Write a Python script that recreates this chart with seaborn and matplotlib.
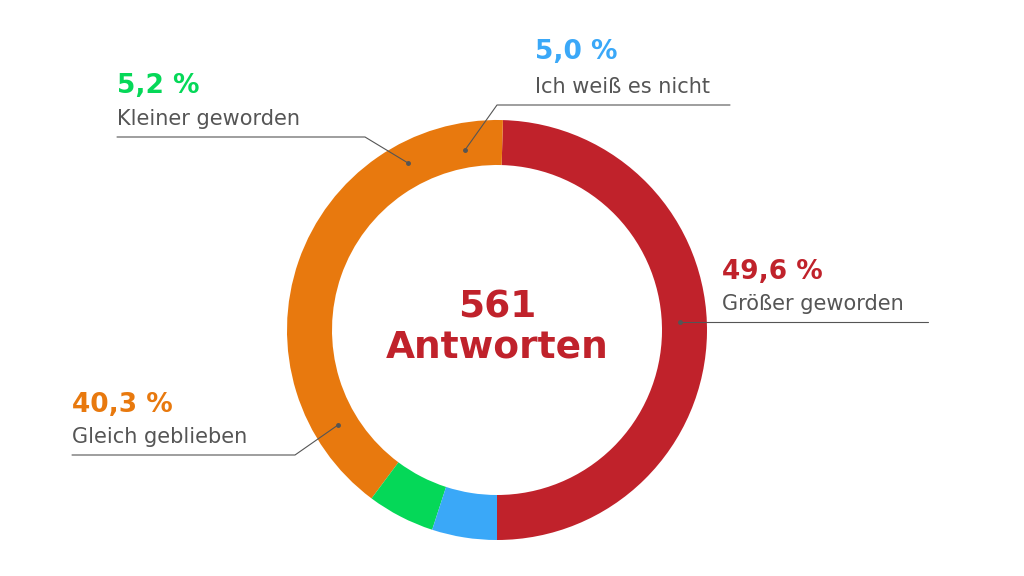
import matplotlib.pyplot as plt
import seaborn as sns

# data
labels = ["Größer geworden", "Gleich geblieben", "Kleiner geworden", "Ich weiß es nicht"]
shares = [49.6, 40.3, 5.2, 5.0]
pct_text = ["49,6 %", "40,3 %", "5,2 %", "5,0 %"]
colors = ["#C0222B", "#E8790E", "#05D858", "#3AA8F8"]
total = "561"

sns.set_theme(style="white")
fig = plt.figure(figsize=(10.24, 5.76), dpi=100)
ax = fig.add_axes([0, 0, 1, 1])
ax.set_xlim(0, 1024)
ax.set_ylim(576, 0)
ax.set_aspect("equal")
ax.axis("off")

H = 576
ax.pie(shares, colors=colors, startangle=90, counterclock=False,
       center=(497, 330), radius=210,
       wedgeprops=dict(width=45, edgecolor="none"))
ax.set_ylim(576, 0)
ax.set_xlim(0, 1024)

ax.text(497, 308, total, ha="center", va="center", fontsize=27,
        fontweight="bold", color=colors[0])
ax.text(497, 347, "Antworten", ha="center", va="center", fontsize=27,
        fontweight="bold", color=colors[0])

# label positions: (dot, elbow, line end, text x, pct y, name y)
layout = [
    ((680, 322), (680, 322), (928, 322), 722, 272, 304),
    ((338, 425), (295, 455), (72, 455), 72, 405, 437),
    ((408, 163), (365, 137), (117, 137), 117, 86, 119),
    ((465, 150), (497, 105), (730, 105), 535, 52, 87),
]
grey = "#555555"
for (dot, elbow, end, tx, py, ny), name, pct, c in zip(layout, labels, pct_text, colors):
    ax.plot([dot[0], elbow[0], end[0]], [dot[1], elbow[1], end[1]],
            color=grey, lw=0.8)
    ax.plot(*dot, "o", color=grey, ms=2.5)
    ax.text(tx, py, pct, ha="left", va="center", fontsize=19,
            fontweight="bold", color=c)
    ax.text(tx, ny, name, ha="left", va="center", fontsize=15, color=grey)

fig.savefig("out.png", dpi=100, facecolor="white")
